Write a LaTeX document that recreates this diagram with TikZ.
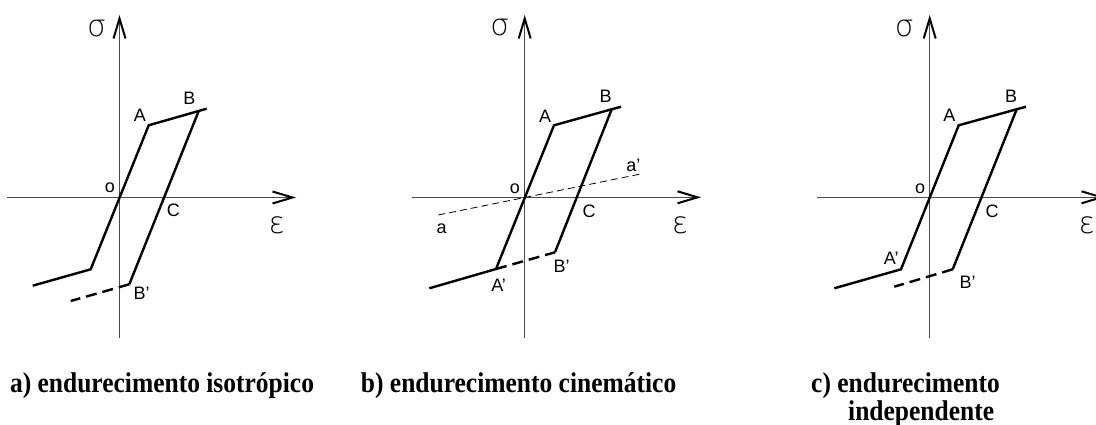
\documentclass[tikz,border=0pt]{standalone}
\usepackage{fontspec}
\usepackage{graphicx}
\setmainfont{Liberation Serif}
\setsansfont{Liberation Sans}
\newfontfamily\thinfont{DejaVu Sans ExtraLight}
\usetikzlibrary{arrows.meta}
\begin{document}
\begin{tikzpicture}[x=1pt,y=-1pt,
  axis/.style={draw=black!70, line width=1.1pt, -{Straight Barb[length=20pt,width=12pt,line width=2pt,color=black]}},
  curve/.style={line width=2.4pt, line join=miter},
  dashcurve/.style={line width=2.4pt, dash pattern=on 11pt off 6pt},
  thindash/.style={line width=0.8pt, dash pattern=on 7pt off 4pt},
  lbl/.style={font=\sffamily\fontsize{18}{20}\selectfont, inner sep=0pt},
  greek/.style={font=\thinfont\fontsize{30}{32}\selectfont, inner sep=0pt},
  caption/.style={font=\rmfamily\bfseries\fontsize{25.5}{28}\selectfont, inner sep=0pt, anchor=base west}]
\clip (0,0) rectangle (1096,425);

% ---------- panel a ----------
\draw[axis] (7,197.5) -- (296,197.5);
\draw[axis] (119.5,338) -- (119.5,15);
\draw[curve] (32.7,285.7) -- (90.7,269.3) -- (148.7,125.3) -- (206.7,108.7);
\draw[curve] (198.7,111.0) -- (129.3,284.3);
\draw[dashcurve] (129.3,284.3) -- (70.7,301);
\node[greek] (sa) at (96.7,29) {σ};
\node[greek] (ea) at (276.7,225) {ε};
\node[lbl] (Aa) at (140,115) {A};
\node[lbl] (Ba) at (189.3,98.3) {B};
\node[lbl] (oa) at (110,188) {o};
\node[lbl] (Ca) at (173.3,210.7) {C};
\node[lbl] (Bpa) at (141.7,293.3) {B'};

% ---------- panel b ----------
\draw[axis] (411.7,197.3) -- (701,197.3);
\draw[axis] (524.7,338) -- (524.7,15);
\draw[thindash] (438.3,215) -- (640.7,174);
\draw[curve] (429.3,288.3) -- (496,269) -- (554,125.3) -- (621,106.7);
\draw[curve] (611.7,109.3) -- (555,252.3);
\draw[dashcurve] (496,269) -- (555,252.3);
\node[greek] (sb) at (500,28) {σ};
\node[greek] (eb) at (680,225.7) {ε};
\node[lbl] (Ab) at (545,116.7) {A};
\node[lbl] (Bb) at (605.7,96.7) {B};
\node[lbl] (ob) at (515,189) {o};
\node[lbl] (Cb) at (589,211.7) {C};
\node[lbl] (ab) at (441.7,228.3) {a};
\node[lbl] (apb) at (633.3,165) {a'};
\node[lbl] (Bpb) at (561.7,266.7) {B'};
\node[lbl] (Apb) at (498.6,285) {A'};

% ---------- panel c ----------
\draw[axis] (816.7,197.3) -- (1105,197.3);
\draw[axis] (929.7,338) -- (929.7,15);
\draw[curve] (834.3,288.3) -- (901,269.3) -- (958.7,125.3) -- (1026,106.7);
\draw[curve] (1016.7,109.3) -- (952.7,269.3);
\draw[dashcurve] (952.7,269.3) -- (894.3,286.7);
\node[greek] (sc) at (904.3,29) {σ};
\node[greek] (ec) at (1086.7,225) {ε};
\node[lbl] (Ac) at (949.3,115) {A};
\node[lbl] (Bc) at (1011,96.7) {B};
\node[lbl] (oc) at (920,189) {o};
\node[lbl] (Cc) at (992,211.7) {C};
\node[lbl] (Apc) at (891.3,258.8) {A'};
\node[lbl] (Bpc) at (967.7,282.7) {B'};

% ---------- captions ----------
\node[caption] (capa) at (9.8,392) {\scalebox{1}[1.12]{a) endurecimento isotrópico}};
\node[caption] (capb) at (360.7,392.5) {\scalebox{1}[1.12]{b) endurecimento cinemático}};
\node[caption] (capc) at (811,392) {\scalebox{1}[1.12]{\vtop{\baselineskip=25pt\lineskiplimit=-100pt\hbox{c) endurecimento}\hbox{\kern37pt independente}}}};
\end{tikzpicture}
\end{document}
